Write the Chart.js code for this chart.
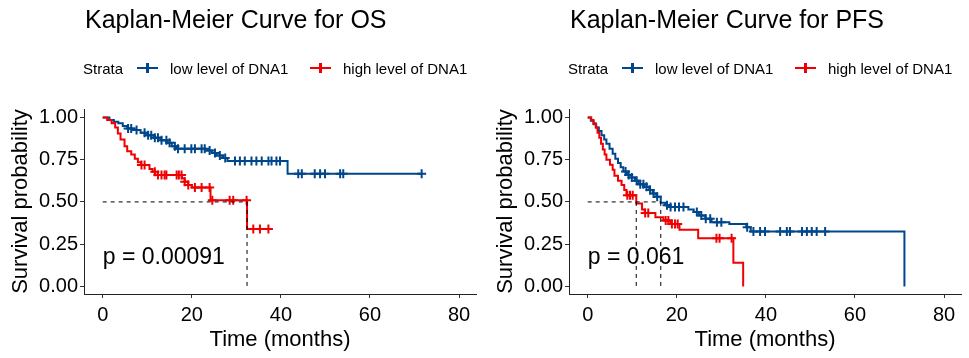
<!DOCTYPE html>
<html>
<head>
<meta charset="utf-8">
<script src="https://cdn.jsdelivr.net/npm/chart.js@4.4.1/dist/chart.umd.min.js"></script>
<style>
  html, body { margin: 0; padding: 0; background: #fff; }
  body { width: 969px; height: 358px; position: relative; overflow: hidden;
         font-family: "Liberation Sans", Arial, sans-serif; color: #000; }
  .panel { position: absolute; top: 0; height: 358px; }
  .panel canvas { position: absolute; left: 0; top: 0; }
  .title { position: absolute; left: 85px; top: 7px; font-size: 25px; line-height: 25px; white-space: nowrap; }
  .legend { position: absolute; left: 0; top: 60px; height: 18px; font-size: 15px; line-height: 18px; white-space: nowrap; }
  .legend span { position: absolute; top: 0; }
  .key { position: absolute; top: 7px; width: 21px; height: 2px; }
  .key::after { content: ''; position: absolute; left: 9px; top: -4px; width: 3px; height: 10px; background: inherit; }
</style>
</head>
<body>

<div class="panel" style="left:0;width:485px">
  <canvas id="osChart" width="485" height="358"></canvas>
  <div class="title">Kaplan-Meier Curve for OS</div>
  <div class="legend">
    <span style="left:83px">Strata</span>
    <div class="key" style="left:137px;background:#00468B"></div>
    <span style="left:170px">low level of DNA1</span>
    <div class="key" style="left:310px;background:#F00000"></div>
    <span style="left:343px">high level of DNA1</span>
  </div>
</div>

<div class="panel" style="left:485px;width:484px">
  <canvas id="pfsChart" width="484" height="358"></canvas>
  <div class="title">Kaplan-Meier Curve for PFS</div>
  <div class="legend">
    <span style="left:83px">Strata</span>
    <div class="key" style="left:137px;background:#00468B"></div>
    <span style="left:170px">low level of DNA1</span>
    <div class="key" style="left:310px;background:#F00000"></div>
    <span style="left:343px">high level of DNA1</span>
  </div>
</div>

<script>
// Overall survival, low level of DNA1
const osLowTime = [0, 1.5, 2.5, 3.5, 4.5, 5.5, 7.0, 8.5, 10.0, 11.5, 13.0, 14.5, 15.5, 16.5, 23.0, 24.5, 25.5, 27.0, 28.0, 41.5, 71.6];
const osLowSurv = [1.0, 0.985, 0.975, 0.965, 0.95, 0.935, 0.925, 0.91, 0.895, 0.88, 0.865, 0.85, 0.83, 0.815, 0.805, 0.79, 0.775, 0.76, 0.742, 0.667, 0.667];
const osLowCensor = [5.7, 6.4, 7.6, 9.4, 10.2, 10.9, 11.7, 12.4, 13.2, 14.3, 15.0, 16.2, 16.9, 18.4, 19.9, 20.7, 22.2, 22.9, 24.0,
  25.2, 26.3, 27.5, 29.7, 30.8, 31.9, 33.4, 34.5, 35.7, 37.2, 37.9, 39.0, 39.8, 43.9, 44.7, 47.6, 48.8, 49.9, 53.3, 54.0, 71.6];

// Overall survival, high level of DNA1
const osHighTime = [0, 1.0, 2.0, 2.8, 3.4, 4.0, 4.9, 5.5, 6.4, 7.2, 7.9, 8.6, 10.5, 11.2, 11.8, 17.8, 18.4, 19.2, 20.0, 24.2, 32.4, 37.2];
const osHighSurv = [1.0, 0.985, 0.965, 0.94, 0.905, 0.87, 0.83, 0.8, 0.78, 0.755, 0.735, 0.718, 0.695, 0.678, 0.66, 0.64, 0.62, 0.6, 0.585, 0.51, 0.34, 0.34];
const osHighCensor = [8.7, 9.4, 11.7, 12.4, 13.2, 13.9, 14.3, 16.6, 17.1, 17.7, 18.4, 19.2, 20.7, 22.2, 24.0, 24.6, 28.5, 29.3, 32.3, 33.8, 35.3, 37.2];

// Progression-free survival, low level of DNA1
const pfsLowTime = [0, 0.7, 1.3, 1.9, 2.5, 3.1, 3.7, 4.2, 4.9, 5.6, 6.2, 6.8, 7.4, 8.0, 8.8, 9.8, 10.6, 11.4, 12.6, 13.8, 14.6, 15.4,
  16.4, 17.4, 18.6, 22.6, 23.8, 25.0, 26.4, 27.8, 31.8, 35.6, 36.6, 71.1];
const pfsLowSurv = [1.0, 0.98, 0.96, 0.94, 0.92, 0.895, 0.87, 0.845, 0.815, 0.785, 0.755, 0.73, 0.705, 0.68, 0.66, 0.645, 0.625, 0.605,
  0.59, 0.57, 0.55, 0.53, 0.495, 0.48, 0.47, 0.455, 0.44, 0.42, 0.4, 0.38, 0.37, 0.35, 0.325, 0];
const pfsLowCensor = [8.5, 9.2, 9.9, 11.0, 11.8, 12.5, 13.2, 14.0, 14.8, 15.6, 17.8, 18.6, 19.6, 20.5, 21.5, 24.5, 25.5, 26.5, 27.5,
  29.0, 30.0, 35.8, 37.2, 38.7, 39.8, 43.2, 44.7, 45.4, 48.1, 49.2, 50.3, 51.4, 53.3];

// Progression-free survival, high level of DNA1
const pfsHighTime = [0, 0.8, 1.3, 1.8, 2.2, 2.6, 3.0, 3.4, 3.8, 4.2, 5.0, 5.6, 6.0, 6.8, 7.6, 8.2, 8.7, 10.9, 12.2, 12.8, 15.2, 17.0,
  18.6, 20.6, 24.8, 32.7, 34.9];
const pfsHighSurv = [1.0, 0.985, 0.965, 0.94, 0.91, 0.88, 0.845, 0.81, 0.78, 0.75, 0.72, 0.69, 0.655, 0.625, 0.6, 0.57, 0.54, 0.49,
  0.455, 0.435, 0.41, 0.39, 0.37, 0.335, 0.285, 0.14, 0];
const pfsHighCensor = [8.9, 9.5, 10.1, 12.9, 13.6, 17.5, 18.1, 18.9, 19.6, 20.2, 28.9, 29.6, 32.3];

// median survival times (dashed guides) and log-rank p values
const osMedians = [32.4];
const pfsMedians = [10.9, 16.4];
const osPValue = 'p = 0.00091';
const pfsPValue = 'p = 0.061';

// axis ticks
const xTickValues = [0, 20, 40, 60, 80];
const yTickValues = [0, 0.25, 0.5, 0.75, 1];
const yTickLabels = ['0.00', '0.25', '0.50', '0.75', '1.00'];

const lowColor = '#00468B';
const highColor = '#F00000';
const FONT = '"Liberation Sans", Arial, sans-serif';

Chart.defaults.font.family = FONT;
Chart.defaults.color = '#000';

function curvePoints(times, surv) {
    return times.map((t, i) => ({ x: t, y: surv[i] }));
}

// survival value of the step curve at time t
function survAt(times, surv, t) {
    let s = surv[0];
    for (let i = 0; i < times.length; i++) {
        if (times[i] <= t) s = surv[i];
    }
    return s;
}

function censorPoints(censor, times, surv) {
    return censor.map(t => ({ x: t, y: survAt(times, surv, t) }));
}

const pValuePlugin = {
    id: 'pValue',
    afterDatasetsDraw(chart, args, opts) {
        const { ctx, scales } = chart;
        ctx.save();
        ctx.font = '23px ' + FONT;
        ctx.fillStyle = '#000';
        ctx.textBaseline = 'alphabetic';
        ctx.textAlign = 'left';
        ctx.fillText(opts.text, scales.x.getPixelForValue(0), scales.y.getPixelForValue(0.13));
        ctx.restore();
    }
};

function createKmChart(canvasId, low, high, medians, pText, padRight) {
    const ctx = document.getElementById(canvasId).getContext('2d');

    const dashed = [];
    const maxMedian = Math.max(...medians);
    dashed.push({
        data: [{ x: 0, y: 0.5 }, { x: maxMedian, y: 0.5 }],
        borderColor: '#000', borderWidth: 1, borderDash: [4, 4], pointRadius: 0
    });
    medians.forEach(m => {
        dashed.push({
            data: [{ x: m, y: 0.5 }, { x: m, y: 0 }],
            borderColor: '#000', borderWidth: 1, borderDash: [4, 4], pointRadius: 0
        });
    });

    return new Chart(ctx, {
        type: 'line',
        data: {
            datasets: [
                ...dashed,
                {
                    label: 'high censor',
                    data: censorPoints(high.censor, high.time, high.surv),
                    showLine: false,
                    pointStyle: 'cross',
                    pointRadius: 4.5,
                    pointBorderWidth: 2,
                    pointBorderColor: highColor,
                    borderColor: highColor
                },
                {
                    label: 'high level of DNA1',
                    data: curvePoints(high.time, high.surv),
                    stepped: true,
                    borderColor: highColor,
                    borderWidth: 2,
                    pointRadius: 0
                },
                {
                    label: 'low censor',
                    data: censorPoints(low.censor, low.time, low.surv),
                    showLine: false,
                    pointStyle: 'cross',
                    pointRadius: 4.5,
                    pointBorderWidth: 2,
                    pointBorderColor: lowColor,
                    borderColor: lowColor
                },
                {
                    label: 'low level of DNA1',
                    data: curvePoints(low.time, low.surv),
                    stepped: true,
                    borderColor: lowColor,
                    borderWidth: 2,
                    pointRadius: 0
                }
            ]
        },
        options: {
            responsive: false,
            animation: false,
            events: [],
            layout: { padding: { top: 109, right: padRight, bottom: 0, left: 0 } },
            plugins: {
                legend: { display: false },
                tooltip: { enabled: false },
                pValue: { text: pText }
            },
            scales: {
                x: {
                    type: 'linear',
                    min: -4.2,
                    max: 83.8,
                    afterBuildTicks: scale => { scale.ticks = xTickValues.map(v => ({ value: v })); },
                    afterFit: scale => { scale.height = 64; },
                    grid: { drawOnChartArea: false, drawTicks: true, tickLength: 4, color: '#333', lineWidth: 1 },
                    border: { display: true, color: '#222', width: 1 },
                    ticks: { font: { size: 20 }, color: '#000', padding: 5, maxRotation: 0 },
                    title: { display: true, text: 'Time (months)', font: { size: 22 }, color: '#000', padding: { top: 0, bottom: 5 } }
                },
                y: {
                    type: 'linear',
                    min: -0.045,
                    max: 1.05,
                    afterBuildTicks: scale => { scale.ticks = yTickValues.map(v => ({ value: v })); },
                    afterFit: scale => { scale.width = 84; },
                    grid: { drawOnChartArea: false, drawTicks: true, tickLength: 4, color: '#333', lineWidth: 1 },
                    border: { display: true, color: '#222', width: 1 },
                    ticks: {
                        font: { size: 20 }, color: '#000', padding: 2,
                        callback: value => yTickLabels[yTickValues.indexOf(value)]
                    },
                    title: { display: true, text: 'Survival probability', font: { size: 22 }, color: '#000', padding: { top: 8, bottom: 0 } }
                }
            }
        },
        plugins: [pValuePlugin]
    });
}

createKmChart('osChart',
    { time: osLowTime, surv: osLowSurv, censor: osLowCensor },
    { time: osHighTime, surv: osHighSurv, censor: osHighCensor },
    osMedians, osPValue, 9);

createKmChart('pfsChart',
    { time: pfsLowTime, surv: pfsLowSurv, censor: pfsLowCensor },
    { time: pfsHighTime, surv: pfsHighSurv, censor: pfsHighCensor },
    pfsMedians, pfsPValue, 8);
</script>
</body>
</html>
